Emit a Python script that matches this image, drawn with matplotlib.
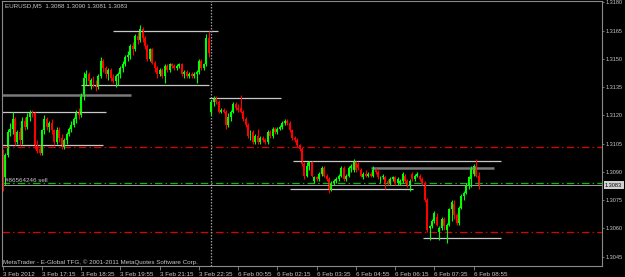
import numpy as np
import matplotlib
matplotlib.use("Agg")
import matplotlib.pyplot as plt
from matplotlib.transforms import blended_transform_factory

plt.rcParams['font.family'] = ['Liberation Sans', 'DejaVu Sans']

SYMBOL = "EURUSD,M5"

# M5 bars, 3 Feb 15:55 .. 6 Feb 09:05
opens = [
    1.3101, 1.3087, 1.3099, 1.3111, 1.3113, 1.3118, 1.3106, 1.3111, 1.3107, 1.3117,
    1.3114, 1.3119, 1.3122, 1.3121, 1.3104, 1.3102, 1.3100, 1.3112, 1.3118, 1.3114,
    1.3116, 1.3112, 1.3106, 1.3112, 1.3108, 1.3103, 1.3107, 1.3110, 1.3113, 1.3115,
    1.3118, 1.3121, 1.3120, 1.3130, 1.3140, 1.3142, 1.3136, 1.3139, 1.3136, 1.3135,
    1.3141, 1.3149, 1.3145, 1.3142, 1.3144, 1.3140, 1.3138, 1.3141, 1.3142, 1.3145,
    1.3147, 1.3151, 1.3152, 1.3157, 1.3155, 1.3162, 1.3160, 1.3166, 1.3161, 1.3157,
    1.3150, 1.3155, 1.3148, 1.3145, 1.3142, 1.3144, 1.3141, 1.3146, 1.3144, 1.3147,
    1.3146, 1.3145, 1.3146, 1.3147, 1.3142, 1.3143, 1.3141, 1.3142, 1.3141, 1.3142,
    1.3143, 1.3149, 1.3145, 1.3147, 1.3161,
    1.3122, 1.3127, 1.3129, 1.3127, 1.3122, 1.3123, 1.3122, 1.3115, 1.3119, 1.3122,
    1.3126, 1.3124, 1.3124, 1.3122, 1.3118, 1.3115, 1.3109, 1.3111, 1.3106, 1.3109,
    1.3106, 1.3108, 1.3107, 1.3106, 1.3111, 1.3109, 1.3113, 1.3111, 1.3113, 1.3114,
    1.3116, 1.3117, 1.3116, 1.3112, 1.3108, 1.3107, 1.3104, 1.3102, 1.3094, 1.3088,
    1.3093, 1.3095, 1.3085, 1.3087, 1.3086, 1.3089, 1.3092, 1.3088, 1.3086, 1.3081,
    1.3084, 1.3085, 1.3086, 1.3088, 1.3092, 1.3086, 1.3088, 1.3092, 1.3091, 1.3095,
    1.3094, 1.3091, 1.3087, 1.3089, 1.3088, 1.3089, 1.3088, 1.3091, 1.3090, 1.3085,
    1.3087, 1.3087, 1.3085, 1.3084, 1.3086, 1.3087, 1.3084, 1.3084, 1.3085, 1.3088,
    1.3085, 1.3083, 1.3089, 1.3086, 1.3088, 1.3088, 1.3086, 1.3084, 1.3075, 1.3060,
    1.3061, 1.3064, 1.3066, 1.3058, 1.3060, 1.3065, 1.3059, 1.3062, 1.3070, 1.3073,
    1.3067, 1.3063, 1.3071, 1.3077, 1.3079, 1.3083, 1.3086, 1.3089, 1.3093, 1.3088,
]
highs = [
    1.3102, 1.3100, 1.3113, 1.3116, 1.3122, 1.3119, 1.3112, 1.3114, 1.3119, 1.3119,
    1.3121, 1.3123, 1.3123, 1.3122, 1.3107, 1.3104, 1.3113, 1.3120, 1.3119, 1.3117,
    1.3118, 1.3113, 1.3114, 1.3114, 1.3110, 1.3108, 1.3111, 1.3114, 1.3117, 1.3119,
    1.3123, 1.3124, 1.3132, 1.3143, 1.3144, 1.3143, 1.3140, 1.3141, 1.3139, 1.3142,
    1.3151, 1.3150, 1.3146, 1.3145, 1.3145, 1.3142, 1.3142, 1.3143, 1.3146, 1.3149,
    1.3152, 1.3154, 1.3158, 1.3159, 1.3163, 1.3164, 1.3168, 1.3167, 1.3162, 1.3158,
    1.3156, 1.3156, 1.3149, 1.3146, 1.3145, 1.3145, 1.3147, 1.3147, 1.3148, 1.3148,
    1.3147, 1.3147, 1.3148, 1.3148, 1.3144, 1.3144, 1.3143, 1.3143, 1.3143, 1.3144,
    1.3150, 1.3150, 1.3148, 1.3163, 1.3165,
    1.3128, 1.3130, 1.3130, 1.3128, 1.3124, 1.3124, 1.3123, 1.3121, 1.3123, 1.3127,
    1.3127, 1.3126, 1.3131, 1.3123, 1.3119, 1.3116, 1.3112, 1.3112, 1.3110, 1.3113,
    1.3109, 1.3109, 1.3108, 1.3112, 1.3112, 1.3114, 1.3114, 1.3114, 1.3115, 1.3117,
    1.3118, 1.3118, 1.3117, 1.3113, 1.3109, 1.3108, 1.3105, 1.3103, 1.3095, 1.3095,
    1.3096, 1.3096, 1.3088, 1.3088, 1.3090, 1.3093, 1.3093, 1.3089, 1.3087, 1.3085,
    1.3086, 1.3087, 1.3089, 1.3093, 1.3093, 1.3089, 1.3093, 1.3094, 1.3097, 1.3096,
    1.3095, 1.3092, 1.3090, 1.3091, 1.3090, 1.3090, 1.3093, 1.3092, 1.3091, 1.3088,
    1.3089, 1.3088, 1.3086, 1.3087, 1.3088, 1.3088, 1.3087, 1.3086, 1.3090, 1.3089,
    1.3086, 1.3086, 1.3090, 1.3089, 1.3090, 1.3089, 1.3087, 1.3085, 1.3076, 1.3062,
    1.3065, 1.3069, 1.3068, 1.3061, 1.3066, 1.3066, 1.3063, 1.3071, 1.3075, 1.3075,
    1.3068, 1.3072, 1.3078, 1.3080, 1.3084, 1.3088, 1.3093, 1.3094, 1.3097, 1.3090,
]
lows = [
    1.3080, 1.3083, 1.3098, 1.3109, 1.3110, 1.3104, 1.3105, 1.3104, 1.3105, 1.3112,
    1.3113, 1.3117, 1.3119, 1.3102, 1.3100, 1.3099, 1.3099, 1.3110, 1.3112, 1.3111,
    1.3110, 1.3104, 1.3105, 1.3106, 1.3102, 1.3102, 1.3105, 1.3109, 1.3111, 1.3114,
    1.3116, 1.3118, 1.3119, 1.3128, 1.3136, 1.3136, 1.3134, 1.3135, 1.3133, 1.3134,
    1.3140, 1.3143, 1.3140, 1.3139, 1.3138, 1.3137, 1.3135, 1.3136, 1.3140, 1.3143,
    1.3146, 1.3149, 1.3150, 1.3152, 1.3154, 1.3158, 1.3159, 1.3159, 1.3155, 1.3149,
    1.3149, 1.3147, 1.3143, 1.3140, 1.3141, 1.3140, 1.3137, 1.3143, 1.3143, 1.3145,
    1.3144, 1.3144, 1.3145, 1.3141, 1.3140, 1.3140, 1.3140, 1.3140, 1.3140, 1.3137,
    1.3142, 1.3144, 1.3144, 1.3146, 1.3151,
    1.3120, 1.3125, 1.3126, 1.3121, 1.3121, 1.3121, 1.3113, 1.3114, 1.3117, 1.3121,
    1.3123, 1.3122, 1.3121, 1.3117, 1.3114, 1.3108, 1.3107, 1.3105, 1.3105, 1.3105,
    1.3105, 1.3106, 1.3105, 1.3105, 1.3108, 1.3108, 1.3110, 1.3110, 1.3112, 1.3113,
    1.3115, 1.3115, 1.3111, 1.3107, 1.3106, 1.3103, 1.3101, 1.3093, 1.3086, 1.3087,
    1.3091, 1.3087, 1.3084, 1.3085, 1.3085, 1.3088, 1.3087, 1.3085, 1.3079, 1.3080,
    1.3083, 1.3084, 1.3085, 1.3087, 1.3085, 1.3085, 1.3087, 1.3090, 1.3090, 1.3090,
    1.3091, 1.3087, 1.3086, 1.3087, 1.3087, 1.3087, 1.3087, 1.3089, 1.3086, 1.3084,
    1.3086, 1.3081, 1.3083, 1.3083, 1.3085, 1.3083, 1.3083, 1.3083, 1.3084, 1.3084,
    1.3082, 1.3080, 1.3085, 1.3085, 1.3087, 1.3085, 1.3083, 1.3074, 1.3058, 1.3054,
    1.3060, 1.3063, 1.3061, 1.3054, 1.3059, 1.3059, 1.3052, 1.3061, 1.3064, 1.3065,
    1.3062, 1.3062, 1.3070, 1.3075, 1.3078, 1.3081, 1.3082, 1.3088, 1.3087, 1.3081,
]
closes = [
    1.3088, 1.3099, 1.3111, 1.3113, 1.3118, 1.3106, 1.3111, 1.3107, 1.3117, 1.3114,
    1.3119, 1.3122, 1.3121, 1.3104, 1.3101, 1.3100, 1.3112, 1.3118, 1.3114, 1.3116,
    1.3112, 1.3106, 1.3112, 1.3108, 1.3103, 1.3107, 1.3110, 1.3113, 1.3115, 1.3118,
    1.3121, 1.3120, 1.3131, 1.3140, 1.3142, 1.3138, 1.3139, 1.3136, 1.3135, 1.3141,
    1.3149, 1.3145, 1.3142, 1.3144, 1.3140, 1.3138, 1.3141, 1.3142, 1.3145, 1.3147,
    1.3151, 1.3152, 1.3157, 1.3155, 1.3162, 1.3160, 1.3166, 1.3161, 1.3157, 1.3150,
    1.3155, 1.3148, 1.3145, 1.3142, 1.3144, 1.3141, 1.3146, 1.3144, 1.3147, 1.3146,
    1.3145, 1.3146, 1.3147, 1.3142, 1.3143, 1.3141, 1.3142, 1.3141, 1.3142, 1.3143,
    1.3149, 1.3145, 1.3147, 1.3161, 1.3153,
    1.3127, 1.3129, 1.3127, 1.3122, 1.3123, 1.3122, 1.3115, 1.3119, 1.3122, 1.3126,
    1.3124, 1.3123, 1.3122, 1.3118, 1.3115, 1.3109, 1.3111, 1.3106, 1.3109, 1.3106,
    1.3108, 1.3107, 1.3106, 1.3111, 1.3109, 1.3113, 1.3111, 1.3113, 1.3114, 1.3116,
    1.3117, 1.3116, 1.3112, 1.3108, 1.3107, 1.3104, 1.3102, 1.3094, 1.3088, 1.3093,
    1.3095, 1.3088, 1.3087, 1.3086, 1.3089, 1.3092, 1.3088, 1.3086, 1.3081, 1.3084,
    1.3085, 1.3086, 1.3088, 1.3092, 1.3086, 1.3088, 1.3092, 1.3093, 1.3095, 1.3091,
    1.3092, 1.3088, 1.3089, 1.3088, 1.3089, 1.3088, 1.3091, 1.3090, 1.3087, 1.3087,
    1.3088, 1.3084, 1.3084, 1.3086, 1.3087, 1.3084, 1.3086, 1.3085, 1.3089, 1.3085,
    1.3083, 1.3085, 1.3086, 1.3088, 1.3089, 1.3086, 1.3084, 1.3075, 1.3059, 1.3061,
    1.3064, 1.3068, 1.3062, 1.3060, 1.3065, 1.3061, 1.3062, 1.3070, 1.3074, 1.3067,
    1.3063, 1.3071, 1.3077, 1.3079, 1.3083, 1.3087, 1.3092, 1.3093, 1.3088, 1.3083,
]

time_labels = ["3 Feb 2012", "3 Feb 17:15", "3 Feb 18:35", "3 Feb 19:55",
               "3 Feb 21:15", "3 Feb 22:35", "6 Feb 00:55", "6 Feb 02:15",
               "6 Feb 03:35", "6 Feb 04:55", "6 Feb 06:15", "6 Feb 07:35",
               "6 Feb 08:55"]
BARS_PER_LABEL = 16
price_ticks = [1.3180, 1.3165, 1.3150, 1.3135, 1.3120,
               1.3105, 1.3090, 1.3075, 1.3060, 1.3045]

# hand-drawn horizontal lines (price, first bar, last bar)
hline_price = [1.3165, 1.3136, 1.3122, 1.3104, 1.3129, 1.3096, 1.3081, 1.3055]
hline_from = [44.8, 31.8, -1.0, -1.0, 84.0, 118.2, 117.0, 171.2]
hline_to = [87.6, 84.0, 42.0, 40.8, 113.3, 203.0, 167.1, 203.0]
# the two heavier grey ones
zone_price = [1.3131, 1.3092]
zone_from = [-1.0, 150.0]
zone_to = [52.2, 200.2]

stop_levels = [1.3103, 1.3058]
order_price = 1.3084
order_label = "#86564246 sell"
day_start_bar = 85

BG = "black"
TXT = "#c8c8c8"
AXC = "#8a8a8a"
FS = 4.5      # chart texts
FS_SCALE = 4.0  # price scale, narrow column on the right

fig = plt.figure(figsize=(6.25, 2.77), dpi=100, facecolor=BG)
ax = fig.add_axes([2 / 625, 11 / 277, 600 / 625, 265 / 277])
ax.set_facecolor(BG)

o, h, l, c = (np.array(v) for v in (opens, highs, lows, closes))
x = np.arange(len(c))
cols = np.where(c >= o, "#00ff00", "#ff0000")

# levels first, candles on top
for p in stop_levels:
    ax.axhline(p, color="#e00000", lw=0.9, ls=(0, (6, 2.5, 1.2, 2.5)))
ax.axhline(order_price, color="#00c000", lw=0.9, ls=(0, (6, 2.5, 1.2, 2.5)))
ax.axhline(c[-1], color="#a0a0a0", lw=0.7)
ax.hlines(hline_price, hline_from, hline_to, colors="#c8c8c8", lw=0.9)
ax.hlines(zone_price, zone_from, zone_to, colors="#7a7a7a", lw=1.8)
ax.axvline(day_start_bar, color="#a0a0a0", lw=0.9, ls=(0, (1.2, 1.2)))

ax.vlines(x, l, h, colors=cols, lw=0.8)
body = np.maximum(np.abs(c - o), 0.00004)
ax.bar(x, body, bottom=np.minimum(o, c), width=0.8, color=cols, linewidth=0)

ax.set_xlim(-0.3, 244.3)
ax.set_ylim(1.3040, 1.31807)

for s in ax.spines.values():
    s.set_color(AXC)
    s.set_linewidth(0.8)

ax.yaxis.tick_right()
ax.set_yticks(price_ticks, [f"{p:.4f}" for p in price_ticks])
ax.tick_params(axis="y", colors=AXC, labelcolor=TXT, labelsize=FS_SCALE,
               length=1.5, width=0.6, pad=1)
tick_pos = [BARS_PER_LABEL * k for k in range(len(time_labels))]
ax.set_xticks(tick_pos, time_labels, ha="left")
ax.tick_params(axis="x", colors=AXC, labelcolor=TXT, labelsize=FS,
               length=3, width=0.6, pad=1)

# last price box on the price scale
tr = blended_transform_factory(ax.transAxes, ax.transData)
ax.text(1.005, c[-1], f"{c[-1]:.4f}", transform=tr, ha="left", va="center",
        fontsize=FS_SCALE, color="black",
        bbox=dict(boxstyle="square,pad=0.25", fc="#d0d0d0", ec="none"))

ax.text(1, order_price + 0.00002, order_label, ha="left", va="bottom",
        fontsize=FS, color=TXT)

title = f"{SYMBOL}  {o[-1]:.4f} {h[-1]:.4f} {l[-1]:.4f} {c[-1]:.4f}"
fig.text(5 / 625, 1 - 3 / 277, title, ha="left", va="top",
         fontsize=FS, color=TXT)
fig.text(3 / 625, 1 - 262 / 277,
         "MetaTrader - E-Global TFG, \u00a9 2001-2011 MetaQuotes Software Corp.",
         ha="left", va="center", fontsize=FS, color=TXT)

fig.savefig("out.png", dpi=100, facecolor=BG)
